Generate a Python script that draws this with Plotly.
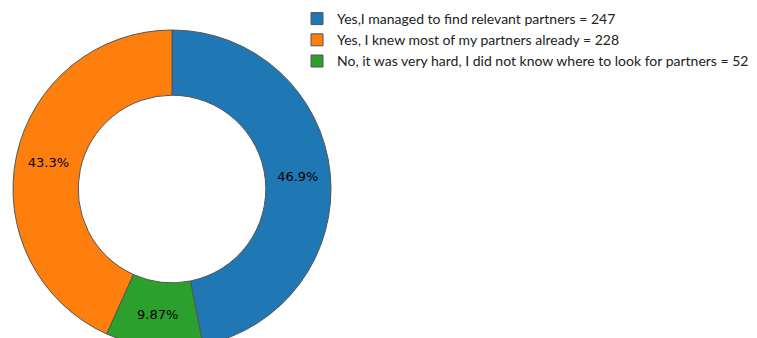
import plotly.graph_objects as go

# Survey answers and counts
answers = [
    "Yes,I managed to find relevant partners",
    "Yes, I knew most of my partners already",
    "No, it was very hard, I did not know where to look for partners",
]
counts = [247, 228, 52]
colors = ["#1f77b4", "#ff7f0e", "#2ca02c"]

legend_labels = [f"{a} = {c}" for a, c in zip(answers, counts)]

W, H = 757, 378

fig = go.Figure(
    go.Pie(
        labels=legend_labels,
        values=counts,
        hole=0.59,
        sort=False,
        direction="counterclockwise",
        rotation=0,
        marker=dict(colors=colors, line=dict(color="#555555", width=1)),
        texttemplate="%{percent:.3p}",
        textposition="inside",
        insidetextorientation="horizontal",
        textfont=dict(family="DejaVu Sans", size=13, color="black"),
        domain=dict(x=[13 / W, 331 / W], y=[0, 1]),
        hoverinfo="label+percent",
    )
)

fig.update_layout(
    width=W,
    height=H,
    margin=dict(l=0, r=0, t=0, b=0),
    paper_bgcolor="white",
    plot_bgcolor="white",
    showlegend=True,
    legend=dict(
        x=297 / W,
        y=1 - 3 / H,
        xanchor="left",
        yanchor="top",
        font=dict(family="Lato", size=14, color="#222222"),
        bgcolor="rgba(0,0,0,0)",
        itemwidth=30,
    ),
)

fig.write_html("out.html")
